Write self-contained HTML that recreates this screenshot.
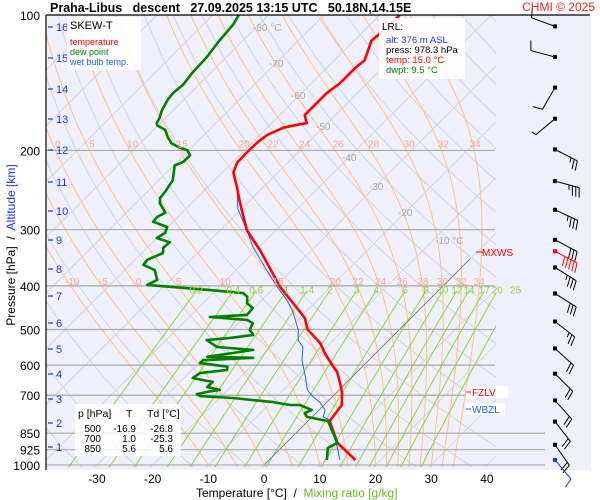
<!DOCTYPE html>
<html><head><meta charset="utf-8"><style>
body{margin:0;background:#fff;}
svg{display:block;font-family:"Liberation Sans",sans-serif;}
</style></head><body>
<svg id="chart" width="600" height="500" viewBox="0 0 600 500" xmlns="http://www.w3.org/2000/svg">
<defs><clipPath id="plotclip"><rect x="46" y="15" width="450" height="452"/></clipPath></defs>
<rect x="46" y="15" width="545" height="455" fill="#f0f0fc"/>
<g id="grid" clip-path="url(#plotclip)"></g>
<g id="plines"></g>
<g id="series" clip-path="url(#plotclip)"></g>
<g id="labels"></g>
<g id="barbs"></g>
<line x1="46" y1="15" x2="590" y2="15" stroke="#000" stroke-width="1.2"/>
<line x1="46" y1="15" x2="46" y2="470" stroke="#000" stroke-width="1.2"/>
<text x="50" y="12" font-size="12.5" font-weight="bold" xml:space="preserve">Praha-Libus   descent   27.09.2025 13:15 UTC   50.18N,14.15E</text>
<text x="595" y="11" font-size="12" fill="#ee2222" text-anchor="end">CHMI © 2025</text>
<g>
<rect x="67" y="17" width="74" height="53" fill="#fff" opacity="0.85"/>
<text x="70" y="29" font-size="11">SKEW-T</text>
<text x="70" y="45" font-size="9" fill="#ff0000">temperature</text>
<text x="70" y="55" font-size="9" fill="#008800">dew point</text>
<text x="70" y="65" font-size="9" fill="#1a66ff">wet bulb temp.</text>
</g>
<g>
<rect x="379" y="18" width="86" height="61" fill="#fff" opacity="0.9"/>
<text x="382" y="30" font-size="10">LRL:</text>
<text x="386" y="43" font-size="9.5" fill="#1a33ff">alt: 376 m ASL</text>
<text x="386" y="53" font-size="9.5">press: 978.3 hPa</text>
<text x="386" y="63" font-size="9.5" fill="#ff0000">temp: 15.0 °C</text>
<text x="386" y="73" font-size="9.5" fill="#008800">dwpt: 9.5 °C</text>
</g>
<g>
<rect x="75" y="404" width="106" height="52" fill="#fff" opacity="0.85"/>
<text x="78" y="417" font-size="10.5">p [hPa]</text><text x="126" y="417" font-size="10.5">T</text><text x="147" y="417" font-size="10.5">Td [°C]</text>
<text x="101" y="432" font-size="10" text-anchor="end">500</text><text x="136" y="432" font-size="10" text-anchor="end">-16.9</text><text x="173" y="432" font-size="10" text-anchor="end">-26.8</text>
<text x="101" y="442" font-size="10" text-anchor="end">700</text><text x="136" y="442" font-size="10" text-anchor="end">1.0</text><text x="173" y="442" font-size="10" text-anchor="end">-25.3</text>
<text x="101" y="452" font-size="10" text-anchor="end">850</text><text x="136" y="452" font-size="10" text-anchor="end">5.6</text><text x="173" y="452" font-size="10" text-anchor="end">5.6</text>
</g>
<text x="196" y="497" font-size="12" xml:space="preserve">Temperature [°C]  /  <tspan fill="#66bb22">Mixing ratio [g/kg]</tspan></text>
<text transform="translate(15,245) rotate(-90)" font-size="12" text-anchor="middle" xml:space="preserve">Pressure [hPa]  /  <tspan fill="#1a33ff">Altitude [km]</tspan></text>
<g>
<line x1="476" y1="252" x2="483" y2="252" stroke="#f00"/><text x="482" y="256" font-size="10" fill="#f00">MXWS</text>
<rect x="466" y="386" width="42" height="12" fill="#fff"/><line x1="466" y1="392" x2="471" y2="392" stroke="#f00"/><text x="472" y="396" font-size="10" fill="#f00">FZLV</text>
<rect x="466" y="403" width="39" height="12" fill="#fff"/><line x1="466" y1="409" x2="471" y2="409" stroke="#1a66ff"/><text x="472" y="413" font-size="10" fill="#1a66ff">WBZL</text>
</g>
</svg>
<script>
// ---- data ----
const tempP=[975,893,799,736,692,657,621,605,564,536,500,472,457,402,333,301,262,241,224,213,202,192,185,178,175,174,167,160,149,142,131,126,114,111,100];
const tempT=[15.5,9.2,3.9,3.2,1.1,-1.1,-3.6,-5.2,-9.2,-11.8,-16.5,-19.0,-21.0,-29.1,-39.3,-45.2,-51.3,-54.8,-58.0,-59.1,-59.2,-59.1,-58.7,-57.1,-54.8,-53.7,-55.5,-55.5,-55.5,-54.9,-54.9,-54.6,-56.9,-56.7,-56.4];
const dewP=[975,917,893,799,782,767,755,736,736,725,710,703,696,688,681,671,654,648,641,625,615,605,594,585,578,575,564,555,547,528,522,514,501,484,476,469,464,448,437,423,415,408,398,388,369,359,350,338,329,320,313,305,296,288,281,275,262,255,247,233,216,212,205,200,197,193,187,180,176,174,169,163,154,149,143,134,124,114,105,100];
const dewT=[10.4,8.4,9.2,3.6,-0.9,-2.0,-1.3,-4.3,-6.1,-9.7,-17.6,-23.9,-24.8,-23.3,-21.4,-24.2,-24.1,-26.2,-28.4,-28.0,-23.7,-24.2,-29.8,-29.8,-21.2,-29.6,-25.7,-22.6,-29.6,-32.7,-28.9,-25.3,-26.8,-27.5,-29.1,-36.3,-30.0,-30.2,-32.1,-33.2,-34.6,-41.7,-53.3,-52.4,-54.6,-57.6,-57.8,-56.2,-57.1,-56.9,-60.0,-59.4,-60.1,-63.6,-63.7,-63.0,-65.7,-66.6,-66.8,-67.5,-69.8,-68.9,-68.9,-70.2,-72.2,-74.3,-76.1,-77.9,-80.1,-80.6,-81.1,-82.0,-82.9,-83.1,-82.8,-83.3,-83.5,-84.2,-84.6,-85.3];
const wbP=[975,912,795,782,755,725,706,681,637,585,547,528,501,457,430,402,369,328,301,269,241,224,213,202,192,185,178,175,174,167,160,149,142,131,126,114,111,100];
const wbT=[12.7,9.9,3.8,2.0,1.1,-1.3,-3.4,-5.7,-8.4,-12.0,-14.2,-16.3,-18.1,-22.3,-25.5,-29.6,-34.5,-41.1,-45.2,-50.8,-54.8,-58.0,-59.1,-59.2,-59.1,-58.7,-57.1,-54.8,-53.7,-55.5,-55.5,-55.5,-54.9,-54.9,-54.6,-56.9,-56.7,-56.4];
const windP=[106,124,145,170,199,234,271,316,335,364,416,480,551,627,719,801,902,975];
const windDir=[290,285,210,230,117,105,115,118,118,122,122,128,132,135,138,142,145,140];
const windSpd=[10,10,10,5,25,35,35,30,50,35,30,25,20,20,20,20,20,10];
const pressTicks=[100,200,300,400,500,600,700,850,925,1000];
const tempTicks=[-30,-20,-10,0,10,20,30,40];
const mixRatios=[0.2,0.4,0.6,1,1.4,2,3,4,6,8,10,12,14,17,20,25];
const moistThetaW=[-10,-5,0,5,10,15,20,22,24,26,28,30,32,34];
const moistLabels400=["-10","-5","0","5","10","15","20","22","24","26","28","30","32","34"];
const kmTicks=[1,2,3,4,5,6,7,8,9,10,11,12,13,14,15,16];
const kmY=[447,423,399,374,349,323,296,269,240,211,182,150,119,89,58,27];
// ---- scales ----
const NS='http://www.w3.org/2000/svg';
function yP(p){return 15+195.4*Math.log(p/100);}
function xT(T,p){return 264+5.57*T+(465-yP(p));}
function mk(tag,attrs,parent){const e=document.createElementNS(NS,tag);for(const k in attrs)e.setAttribute(k,attrs[k]);parent.appendChild(e);return e;}
const grid=document.getElementById('grid'),pl=document.getElementById('plines'),ser=document.getElementById('series'),lab=document.getElementById('labels'),bg=document.getElementById('barbs');
for(let T=-140;T<=50;T+=10){const l=mk('line',{x1:xT(T,1050),y1:yP(1050),x2:xT(T,100),y2:yP(100),stroke:'#d4d4dc','stroke-width':1},grid);

}
for(let th=230;th<=500;th+=10){let d='';for(let p=1050;p>=100;p-=25){const T=th*Math.pow(p/1000,0.286)-273.15;d+=(d?'L':'M')+xT(T,p).toFixed(1)+','+yP(p).toFixed(1);}
const a=mk('path',{d:d,fill:'none',stroke:'#d4d4dc','stroke-width':1},grid);

}
function es(T){return 6.112*Math.exp(17.67*T/(T+243.5));}
function grad(Tk,p){const e=es(Tk-273.15);const rs=0.622*e/Math.max(p-e,1);const Rd=287,cp=1004,Lv=2.5e6;return (Rd*Tk+Lv*rs)/(p*(cp+Lv*Lv*rs*0.622/(Rd*Tk*Tk)));}
function moist(tw){const pts=[];let Tk=tw+273.15;for(let pp=1000;pp<1050;pp+=5){Tk+=grad(Tk,pp)*5;}let T=Tk;
for(let p=1050;p>=100;p-=5){pts.push([T-273.15,p]);T-=grad(T,p)*5;}return pts;}
moistThetaW.forEach((tw,i)=>{const pts=moist(tw);const d=pts.map((q,j)=>(j?'L':'M')+xT(q[0],q[1]).toFixed(1)+','+yP(q[1]).toFixed(1)).join('');
const m=mk('path',{d:d,fill:'none',stroke:'#ffc47a','stroke-width':1},grid);


const at=(pr)=>{let best=pts[0];pts.forEach(q=>{if(Math.abs(q[1]-pr)<Math.abs(best[1]-pr))best=q;});return best;};
const q4=at(405);const t1=mk('text',{x:xT(q4[0],q4[1]).toFixed(1),y:yP(400)-1,'font-size':10,fill:'#f4a890','text-anchor':'middle'},lab);t1.textContent=moistLabels400[i];


if(tw>=0){const q2=at(205);const x2=xT(q2[0],q2[1]);if(x2<495){const t2=mk('text',{x:x2.toFixed(1),y:yP(200)-3,'font-size':10,fill:'#f4a890','text-anchor':'middle'},lab);t2.textContent=moistLabels400[i];

}}});
mixRatios.forEach(w=>{let d='';for(let p=1050;p>=410;p-=20){const e=w*p/(622+w);const L=Math.log(e/6.112);const Td=243.5*L/(17.67-L);d+=(d?'L':'M')+xT(Td,p).toFixed(1)+','+yP(p).toFixed(1);}
const g=mk('path',{d:d,fill:'none',stroke:'#8fd636','stroke-width':1},grid);


const e=w*410/(622+w);const L=Math.log(e/6.112);const Td=243.5*L/(17.67-L);
const t=mk('text',{x:xT(Td,410).toFixed(1),y:yP(410)+3,'font-size':10,fill:'#8fd636','text-anchor':'middle'},lab);t.textContent=String(w);

});
const z=mk('line',{x1:xT(0,1000),y1:yP(1000),x2:xT(0,348),y2:yP(348),stroke:'#777','stroke-width':0.8},grid);


const isoLab=[['-80 °C',265,27],['-70',281,63],['-60',303,95],['-50',328,126],['-40',354,157],['-30',381,186],['-20',410,212],['-10 °C',447,240]];
isoLab.forEach(a=>{const t=mk('text',{x:a[1]-12,y:a[2]+4,'font-size':10,fill:'#a8a8a8'},lab);t.textContent=a[0];

});
pressTicks.forEach(p=>{if(p>100){const ln=mk('line',{x1:46,y1:yP(p),x2:p>=850?545:495,y2:yP(p),stroke:'#a8a8a8','stroke-width':1.2},pl);

}
const t=mk('text',{x:40,y:yP(p)+5,'font-size':12,'text-anchor':'end'},lab);t.textContent=String(p);

});
tempTicks.forEach(T=>{const t=mk('text',{x:xT(T,1000),y:483,'font-size':12,'text-anchor':'middle'},lab);t.textContent=String(T);

});
kmTicks.forEach((k,i)=>{const ln=mk('line',{x1:48,y1:kmY[i],x2:53,y2:kmY[i],stroke:'#1a33ff','stroke-width':1.2},lab);


const t=mk('text',{x:56,y:kmY[i]+4,'font-size':11,fill:'#1a33ff'},lab);t.textContent=String(k);

});
function series(P,T,col,w,name){const d=P.map((p,i)=>(i?'L':'M')+xT(T[i],p).toFixed(1)+','+yP(p).toFixed(1)).join('');const s=mk('path',{d:d,fill:'none',stroke:col,'stroke-width':w,'stroke-linejoin':'round'},ser);

}
series(wbP,wbT,'#1a66ff',1,'wet-bulb-line');
series(tempP,tempT,'#ff0000',2.6,'temperature-line');
series(dewP,dewT,'#008000',2.6,'dew-point-line');
windP.forEach((p,i)=>{const y=yP(p),x=555;const col=i===8?'#f00':(i===windP.length-1?'#1a33ff':'#000');const a=windDir[i]*Math.PI/180;const L=25;
const ex=x+L*Math.sin(a),ey=y-L*Math.cos(a);const g=mk('g',{},bg);


mk('rect',{x:x-2,y:y-2,width:4,height:4,fill:col},g);mk('line',{x1:x,y1:y,x2:ex,y2:ey,stroke:col,'stroke-width':1},g);
let s=windSpd[i];let k=0;const b=a+75*Math.PI/180;
while(s>=5){const len=s>=10?10:5;const px=ex-k*3.5*Math.sin(a),py=ey+k*3.5*Math.cos(a);mk('line',{x1:px,y1:py,x2:px+len*Math.sin(b),y2:py-len*Math.cos(b),stroke:col,'stroke-width':1},g);s-=s>=10?10:5;k++;}});
</script>
</body></html>
